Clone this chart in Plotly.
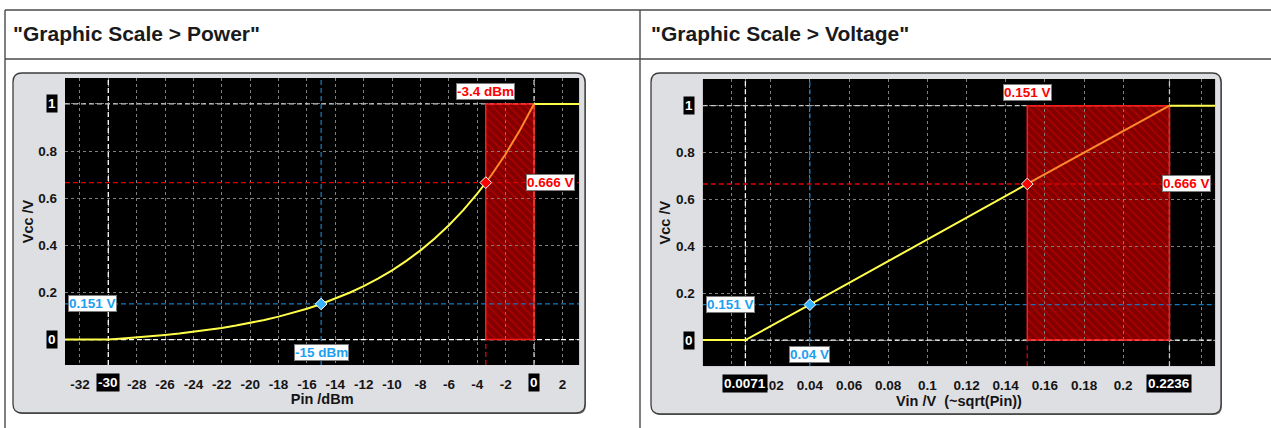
import plotly.graph_objects as go

W, H = 1271, 428
FONT = "Arial, Liberation Sans, sans-serif"

# ---------------- data ----------------
pin_dbm = [-34, -30, -29, -28, -27, -26, -25, -24, -23, -22, -21, -20, -19, -18,
           -17, -16, -15, -14, -13, -12, -11, -10, -9, -8, -7, -6, -5, -4,
           -3.4, -3, -2, -1, 0, 4]
vcc_pin = [0, 0, 0.0040, 0.0085, 0.0135, 0.0191, 0.0254, 0.0325, 0.0405, 0.0494,
           0.0594, 0.0706, 0.0832, 0.0974, 0.1132, 0.1310, 0.1510, 0.1734, 0.1985,
           0.2267, 0.2584, 0.2939, 0.3338, 0.3785, 0.4286, 0.4849, 0.5481, 0.6189,
           0.6655, 0.6984, 0.7876, 0.8877, 1.0, 1.0]

vin_v = [-0.02, 0.0071, 0.04, 0.151, 0.2236, 0.25]
vcc_vin = [0, 0, 0.151, 0.666, 1.0, 1.0]

pin_start, pin_end = -30, 0
pin_blue, pin_red = -15, -3.4
vin_start, vin_end = 0.0071, 0.2236
vin_blue, vin_red = 0.04, 0.151
vcc_low, vcc_high = 0, 1
vcc_blue, vcc_red = 0.151, 0.666

left_xtick_vals = [-32, -30, -28, -26, -24, -22, -20, -18, -16, -14, -12, -10,
                   -8, -6, -4, -2, 0, 2]
left_xtick_text = ["-32", "", "-28", "-26", "-24", "-22", "-20", "-18", "-16",
                   "-14", "-12", "-10", "-8", "-6", "-4", "-2", "", "2"]
right_xtick_vals = [0, 0.0071, 0.02, 0.04, 0.06, 0.08, 0.1, 0.12, 0.14, 0.16,
                    0.18, 0.2, 0.2236, 0.24]
right_xtick_text = ["", "", "0.02", "0.04", "0.06", "0.08", "0.1", "0.12",
                    "0.14", "0.16", "0.18", "0.2", "", ""]
ytick_vals = [0, 0.2, 0.4, 0.6, 0.8, 1]
ytick_text = ["", "0.2", "0.4", "0.6", "0.8", ""]

# boxed (highlighted) tick labels
left_box_ticks = [(-30, "-30"), (0, "0")]
right_box_ticks = [(0.0071, "0.0071"), (0.2236, "0.2236")]
y_box_ticks = [(0, "0"), (1, "1")]

headers = ['"Graphic Scale > Power"', '"Graphic Scale > Voltage"']
x_titles = ["Pin /dBm", "Vin /V  (~sqrt(Pin))"]
y_title = "Vcc /V"

# ---------------- style ----------------
YELLOW = "#ffff4a"
ORANGE = "#ff8a2a"
RED_TXT = "#ff0000"
RED_LINE = "#e00000"
BLUE_TXT = "#1ea0f0"
BLUE_LINE = "#1478c0"
BLUE_MARK = "#38b4ff"
GRID = "#808080"


def fx(px):
    return px / W


def fy(py):
    return 1 - py / H


def rr_path(x0, y0, x1, y1, r):
    pts = [
        ("M", [(x0 + r, y0)]), ("L", [(x1 - r, y0)]), ("Q", [(x1, y0), (x1, y0 + r)]),
        ("L", [(x1, y1 - r)]), ("Q", [(x1, y1), (x1 - r, y1)]),
        ("L", [(x0 + r, y1)]), ("Q", [(x0, y1), (x0, y1 - r)]),
        ("L", [(x0, y0 + r)]), ("Q", [(x0, y0), (x0 + r, y0)]),
    ]
    s = ""
    for cmd, ps in pts:
        s += cmd + " " + " ".join(f"{fx(a):.5f},{fy(b):.5f}" for a, b in ps) + " "
    return s + "Z"


fig = go.Figure()

panels = [
    dict(xa="x", ya="y", xd=[65, 579.3], yd=[78, 365], rng=[-33.05, 3.19], yr=[-0.108, 1.11],
         xs=pin_dbm, ys=vcc_pin, start=pin_start, end=pin_end, blue=pin_blue, red=pin_red,
         tv=left_xtick_vals, tt=left_xtick_text, panel=(13, 73, 585, 413),
         lab_top="-3.4 dBm", lab_bot="-15 dBm", top_y=1.053, bot_y=-0.054,
         right_lab_x=575, left_lab_x=68, box_ticks=left_box_ticks,
         ylab_right=57.5, xlab_y=382),
    dict(xa="x2", ya="y2", xd=[702.7, 1215.3], yd=[79, 366.3], rng=[-0.0147, 0.247], yr=[-0.112, 1.114],
         xs=vin_v, ys=vcc_vin, start=vin_start, end=vin_end, blue=vin_blue, red=vin_red,
         tv=right_xtick_vals, tt=right_xtick_text, panel=(651, 73, 1221, 414),
         lab_top="0.151 V", lab_bot="0.04 V", top_y=1.057, bot_y=-0.06,
         right_lab_x=1210.7, left_lab_x=705.7, box_ticks=right_box_ticks,
         ylab_right=694.5, xlab_y=383),
]

shapes = []
annotations = []

# table lines
tl = dict(color="#4a4a4a", width=1.4)
shapes += [
    dict(type="line", xref="paper", yref="paper", x0=fx(5), x1=1, y0=fy(10), y1=fy(10), line=tl, layer="below"),
    dict(type="line", xref="paper", yref="paper", x0=fx(5), x1=1, y0=fy(59), y1=fy(59), line=tl, layer="below"),
    dict(type="line", xref="paper", yref="paper", x0=fx(5), x1=fx(5), y0=fy(10), y1=0, line=tl, layer="below"),
    dict(type="line", xref="paper", yref="paper", x0=fx(640), x1=fx(640), y0=fy(10), y1=0, line=tl, layer="below"),
]
hfont = dict(family=FONT, size=21, color="#1a1a1a", weight="bold")
annotations += [
    dict(text=headers[0], xref="paper", yref="paper", x=fx(11), y=fy(33), xanchor="left", yanchor="middle",
         showarrow=False, font=hfont),
    dict(text=headers[1], xref="paper", yref="paper", x=fx(649), y=fy(33), xanchor="left", yanchor="middle",
         showarrow=False, font=hfont),
]

# gray rounded panels (paper shapes first)
for p in panels:
    px0, py0, px1, py1 = p["panel"]
    shapes.append(dict(type="path", xref="paper", yref="paper", path=rr_path(px0 + 1, py0 + 1, px1 + 1, py1 + 1, 9),
                       fillcolor="#6a6a6a", line=dict(width=0), layer="below"))
    shapes.append(dict(type="path", xref="paper", yref="paper", path=rr_path(px0, py0, px1, py1, 9),
                       fillcolor="#dedfe3", line=dict(color="#3c3c3c", width=1.3), layer="below"))

layout_axes = {}
for i, p in enumerate(panels):
    xa, ya = p["xa"], p["ya"]
    xname = "xaxis" if xa == "x" else "xaxis2"
    yname = "yaxis" if ya == "y" else "yaxis2"
    xlo, xhi = p["rng"]
    ylo, yhi = p["yr"]
    # black plot area + red region background (below grid)
    shapes.append(dict(type="rect", xref=xa, yref=ya, x0=xlo, x1=xhi, y0=ylo, y1=yhi,
                       fillcolor="black", line=dict(width=0), layer="below"))
    shapes.append(dict(type="rect", xref=xa, yref=ya, x0=p["red"], x1=p["end"], y0=vcc_low, y1=vcc_high,
                       fillcolor="#820000", line=dict(width=0), layer="below"))
    # reference dashed lines
    dash = "5px,3px"
    wl = dict(color="white", width=1.3, dash=dash)
    gl = dict(color="#c8c8c8", width=1.3, dash=dash)
    bl = dict(color=BLUE_LINE, width=1.3, dash=dash)
    rl = dict(color=RED_LINE, width=1.3, dash=dash)
    shapes += [
        dict(type="line", xref=xa, yref=ya, x0=p["start"], x1=p["start"], y0=ylo, y1=yhi, line=wl, layer="between"),
        dict(type="line", xref=xa, yref=ya, x0=xlo, x1=xhi, y0=vcc_low, y1=vcc_low, line=wl, layer="between"),
        dict(type="line", xref=xa, yref=ya, x0=xlo, x1=xhi, y0=vcc_high, y1=vcc_high, line=gl, layer="between"),
        dict(type="line", xref=xa, yref=ya, x0=p["end"], x1=p["end"], y0=ylo, y1=yhi, line=gl, layer="between"),
        dict(type="line", xref=xa, yref=ya, x0=p["blue"], x1=p["blue"], y0=ylo, y1=yhi, line=bl, layer="between"),
        dict(type="line", xref=xa, yref=ya, x0=xlo, x1=xhi, y0=vcc_blue, y1=vcc_blue, line=bl, layer="between"),
        dict(type="line", xref=xa, yref=ya, x0=xlo, x1=xhi, y0=vcc_red, y1=vcc_red, line=rl, layer="between"),
        dict(type="line", xref=xa, yref=ya, x0=p["red"], x1=p["red"], y0=ylo, y1=vcc_low, line=rl, layer="between"),
    ]

    # hatched red region
    fig.add_trace(go.Scatter(
        x=[p["red"], p["end"], p["end"], p["red"], p["red"]],
        y=[vcc_low, vcc_low, vcc_high, vcc_high, vcc_low],
        mode="lines", fill="toself", fillcolor="rgba(0,0,0,0)",
        fillpattern=dict(shape="\\", fgcolor="#f00000", bgcolor="rgba(0,0,0,0)", size=6, solidity=0.2),
        line=dict(color="#ff1a1a", width=1.5), xaxis=xa, yaxis=ya, hoverinfo="skip", showlegend=False))

    xs, ys = p["xs"], p["ys"]
    seg1 = [(a, b) for a, b in zip(xs, ys) if a <= p["red"]]
    seg2 = [(a, b) for a, b in zip(xs, ys) if p["red"] <= a <= p["end"]]
    seg3 = [(a, b) for a, b in zip(xs, ys) if a >= p["end"]]
    for seg, col in ((seg1, YELLOW), (seg3, YELLOW), (seg2, ORANGE)):
        fig.add_trace(go.Scatter(x=[a for a, _ in seg], y=[b for _, b in seg], mode="lines",
                                 line=dict(color=col, width=2), xaxis=xa, yaxis=ya,
                                 hoverinfo="skip", showlegend=False))
    # markers
    fig.add_trace(go.Scatter(x=[p["blue"]], y=[vcc_blue], mode="markers",
                             marker=dict(symbol="diamond", size=9, color=BLUE_MARK, line=dict(color="white", width=1)),
                             xaxis=xa, yaxis=ya, hoverinfo="skip", showlegend=False))
    fig.add_trace(go.Scatter(x=[p["red"]], y=[vcc_red], mode="markers",
                             marker=dict(symbol="diamond", size=9, color="#ff0000", line=dict(color="white", width=1)),
                             xaxis=xa, yaxis=ya, hoverinfo="skip", showlegend=False))

    labfont_r = dict(family=FONT, size=13.5, color=RED_TXT, weight="bold")
    labfont_b = dict(family=FONT, size=13.5, color=BLUE_TXT, weight="bold")
    box = dict(bgcolor="white", bordercolor="#7a7a7a", borderwidth=1, borderpad=0, showarrow=False)
    annotations += [
        dict(text=p["lab_top"], xref=xa, yref=ya, x=p["red"], y=p["top_y"], font=labfont_r, **box),
        dict(text=f"{vcc_red:.3f} V", xref="paper", yref=ya, x=fx(p["right_lab_x"]), xanchor="right",
             y=vcc_red, font=labfont_r, **box),
        dict(text=f"{vcc_blue:.3f} V", xref="paper", yref=ya, x=fx(p["left_lab_x"]), xanchor="left",
             y=vcc_blue, font=labfont_b, **box),
        dict(text=p["lab_bot"], xref=xa, yref=ya, x=p["blue"], y=p["bot_y"], font=labfont_b, **box),
    ]
    # boxed tick labels
    tfont = dict(family=FONT, size=13.5, color="white", weight="bold")
    for v, t in p["box_ticks"]:
        annotations.append(dict(text=t, xref=xa, yref="paper", x=v, y=fy(p["xlab_y"]), yanchor="middle",
                                bgcolor="black", borderpad=1, showarrow=False, font=tfont))
    for v, t in y_box_ticks:
        annotations.append(dict(text=t, xref="paper", yref=ya,
                                x=fx(p["ylab_right"]), xanchor="right", y=v, yanchor="middle",
                                bgcolor="black", borderpad=1, showarrow=False, font=tfont))

    axfont = dict(family=FONT, size=13.5, color="#141414", weight="bold")
    tfont_title = dict(family=FONT, size=14.5, color="#141414", weight="bold")
    layout_axes[xname] = dict(
        domain=[fx(p["xd"][0]), fx(p["xd"][1])], range=p["rng"], anchor=ya,
        tickmode="array", tickvals=p["tv"], ticktext=p["tt"], tickangle=0,
        showgrid=True, gridcolor=GRID, griddash="dot", gridwidth=1,
        zeroline=False, showline=False, ticks="", tickfont=axfont, ticklabelstandoff=9,
        title=dict(text=x_titles[i], font=tfont_title, standoff=0), fixedrange=True)
    layout_axes[yname] = dict(
        domain=[fy(p["yd"][1]), fy(p["yd"][0])], range=p["yr"], anchor=xa,
        tickmode="array", tickvals=ytick_vals, ticktext=ytick_text,
        showgrid=True, gridcolor=GRID, griddash="dot", gridwidth=1,
        zeroline=False, showline=False, ticks="", tickfont=axfont, ticklabelstandoff=7,
        title=dict(text=y_title, font=tfont_title, standoff=1), fixedrange=True)

fig.update_layout(
    width=W, height=H, margin=dict(l=0, r=0, t=0, b=0),
    paper_bgcolor="white", plot_bgcolor="black",
    shapes=shapes, annotations=annotations, showlegend=False,
    **layout_axes)

fig.write_html("out.html", config={"displayModeBar": False},
               post_script="document.body.style.margin='0';document.body.style.padding='0';")
